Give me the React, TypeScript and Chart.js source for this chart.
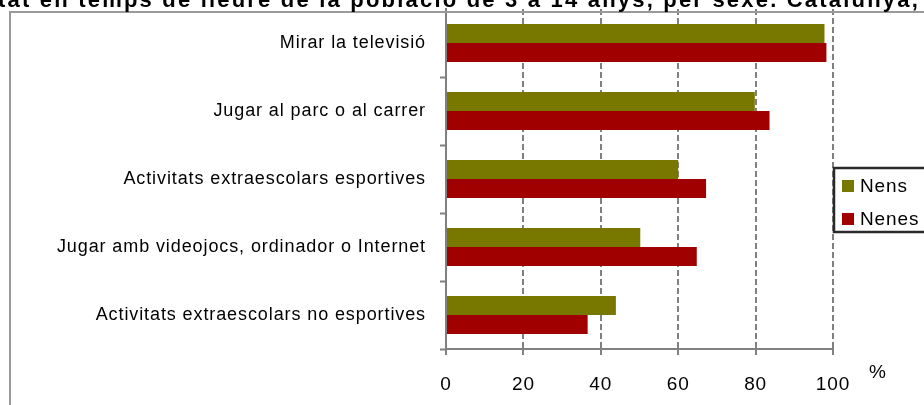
import React, { useEffect, useRef } from 'react';
import { Chart, registerables } from 'chart.js';

Chart.register(...registerables);

const categories = [
  'Mirar la televisió',
  'Jugar al parc o al carrer',
  'Activitats extraescolars esportives',
  'Jugar amb videojocs, ordinador o Internet',
  'Activitats extraescolars no esportives',
];
const nens = [97.8, 79.8, 60.0, 50.2, 43.9];
const nenes = [98.3, 83.6, 67.2, 64.8, 36.6];
const seriesNames = ['Nens', 'Nenes'];
const seriesColors = ['#787800', '#a00000'];
const titleText = 'tat en temps de lleure de la població de 3 a 14 anys, per sexe. Catalunya,';
const unitLabel = '%';

const FONT = "'Liberation Sans', Arial, sans-serif";
const LS = '0.9px';

const decorPlugin = {
  id: 'decor',
  beforeDraw(chart: any) {
    (chart.ctx as any).letterSpacing = LS;
  },
  afterDraw(chart: any) {
    const ctx = chart.ctx as CanvasRenderingContext2D;
    const area = chart.chartArea;
    ctx.save();
    // outer frame
    ctx.strokeStyle = '#9a9a9a';
    ctx.lineWidth = 2;
    ctx.strokeRect(10, 12, 2000, 2000);
    // title (partially cropped)
    ctx.fillStyle = '#000';
    ctx.font = `bold 22px ${FONT}`;
    (ctx as any).letterSpacing = '0px';
    const w0 = ctx.measureText(titleText).width;
    const ls = Math.max(0, (922 - w0) / titleText.length);
    (ctx as any).letterSpacing = ls + 'px';
    ctx.textAlign = 'left';
    ctx.textBaseline = 'alphabetic';
    ctx.fillText(titleText, -2, 7);
    (ctx as any).letterSpacing = LS;
    // unit label
    ctx.font = `19px ${FONT}`;
    ctx.textAlign = 'center';
    ctx.textBaseline = 'middle';
    ctx.fillText(unitLabel, area.right + 45, area.bottom + 24);
    // legend
    const bx = area.right + 1;
    const by = 168;
    ctx.fillStyle = '#fff';
    ctx.fillRect(bx, by, 200, 64);
    ctx.strokeStyle = '#2a2a2a';
    ctx.lineWidth = 2.5;
    ctx.strokeRect(bx, by, 200, 64);
    ctx.font = `19px ${FONT}`;
    ctx.textAlign = 'left';
    ctx.textBaseline = 'alphabetic';
    seriesNames.forEach((name, i) => {
      const y = by + 12 + i * 33;
      ctx.fillStyle = seriesColors[i];
      ctx.fillRect(bx + 8, y, 12, 12);
      ctx.fillStyle = '#000';
      ctx.fillText(name, bx + 26, y + 12);
    });
    ctx.restore();
  },
};

export default function App() {
  const ref = useRef<HTMLCanvasElement | null>(null);
  useEffect(() => {
    if (!ref.current) return;
    const chart = new Chart(ref.current, {
      type: 'bar',
      data: {
        labels: categories,
        datasets: [
          {
            label: seriesNames[0],
            data: nens,
            backgroundColor: seriesColors[0],
            borderWidth: 0,
            categoryPercentage: 0.56,
            barPercentage: 1,
          },
          {
            label: seriesNames[1],
            data: nenes,
            backgroundColor: seriesColors[1],
            borderWidth: 0,
            categoryPercentage: 0.56,
            barPercentage: 1,
          },
        ],
      },
      options: {
        indexAxis: 'y',
        animation: false,
        responsive: true,
        maintainAspectRatio: false,
        layout: { padding: { left: 0, top: 9, right: 91, bottom: 0 } },
        plugins: {
          legend: { display: false },
          title: { display: false },
          tooltip: { enabled: false },
        },
        scales: {
          x: {
            min: 0,
            max: 100,
            ticks: {
              stepSize: 20,
              color: '#000',
              font: { family: FONT, size: 19 },
              padding: 18,
              maxRotation: 0,
            },
            grid: {
              color: (c: any) => (c.tick && c.tick.value === 0 ? 'rgba(0,0,0,0)' : '#808080'),
              lineWidth: 2,
              tickColor: '#808080',
              tickWidth: 2,
              tickLength: 6,
              tickBorderDash: [],
            },
            border: { display: true, color: '#808080', width: 2, dash: [6, 3] },
            afterFit: (s: any) => {
              s.height = 56;
              s.paddingLeft = 0;
              s.paddingRight = 0;
            },
          },
          y: {
            ticks: {
              color: '#000',
              font: { family: FONT, size: 18 },
              padding: 14,
            },
            grid: {
              drawOnChartArea: false,
              tickColor: (c: any) => (c.index === 0 ? 'rgba(0,0,0,0)' : '#808080'),
              tickWidth: 2,
              tickLength: 6,
            },
            border: { display: true, color: '#808080', width: 2 },
            afterFit: (s: any) => {
              s.width = 446;
              s.paddingTop = 0;
              s.paddingBottom = 0;
            },
          },
        },
      },
      plugins: [decorPlugin],
    });
    return () => chart.destroy();
  }, []);
  return (
    <div style={{ position: 'fixed', left: 0, top: 0, width: 924, height: 405, overflow: 'hidden', background: '#fff' }}>
      <canvas ref={ref} />
    </div>
  );
}
